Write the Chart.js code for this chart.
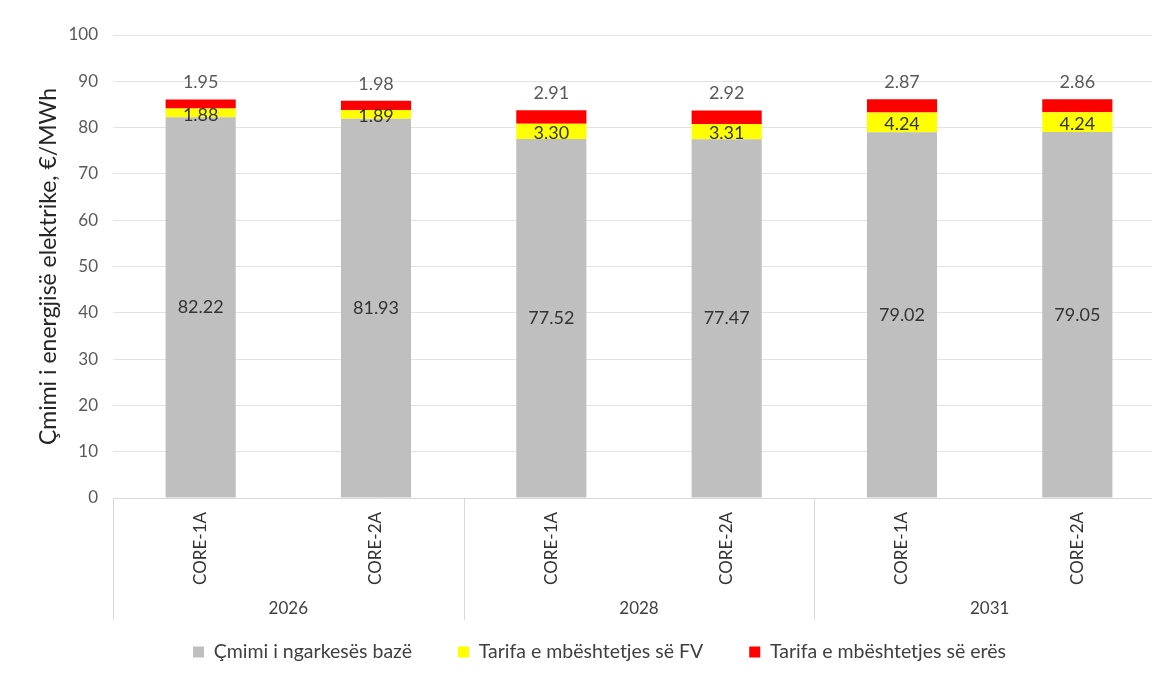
<!DOCTYPE html>
<html>
<head>
<meta charset="utf-8">
<script src="https://cdn.jsdelivr.net/npm/chart.js@4.4.1/dist/chart.umd.min.js"></script>
<style>
  html, body { margin: 0; padding: 0; background: #ffffff; overflow: hidden; }
  #wrap { position: absolute; left: 0; top: 0; width: 1170px; height: 677px; }
</style>
</head>
<body>
<div id="wrap"><canvas id="c" width="1170" height="677"></canvas></div>
<script>
// ---- data ----
const years = ['2026', '2028', '2031'];
const scenarios = ['CORE-1A', 'CORE-2A', 'CORE-1A', 'CORE-2A', 'CORE-1A', 'CORE-2A'];
const basePrice = [82.22, 81.93, 77.52, 77.47, 79.02, 79.05];
const pvTariff = [1.88, 1.89, 3.30, 3.31, 4.24, 4.24];
const windTariff = [1.95, 1.98, 2.91, 2.92, 2.87, 2.86];
const seriesNames = ['Çmimi i ngarkesës bazë', 'Tarifa e mbështetjes së FV', 'Tarifa e mbështetjes së erës'];
const yAxisTitle = 'Çmimi i energjisë elektrike, €/MWh';
const barsPerYear = 2;

const FONT = 'Lato, "Open Sans", sans-serif';
const LEGEND_FS = 19.5;
const LEGEND_PAD = 46;
const LEGEND_CENTER_Y = 652;

const dataLabelPlugin = {
  id: 'dataLabels',
  afterDatasetsDraw(chart) {
    const ctx = chart.ctx;
    ctx.save();
    ctx.textAlign = 'center';
    ctx.textBaseline = 'middle';
    ctx.font = '18px ' + FONT;
    chart.data.datasets.forEach((ds, di) => {
      const meta = chart.getDatasetMeta(di);
      meta.data.forEach((bar, i) => {
        const p = bar.getProps(['x', 'y', 'base'], true);
        const txt = ds.data[i].toFixed(2);
        let y;
        if (di === 2) {
          ctx.fillStyle = '#595959';
          y = Math.min(p.y, p.base) - 17;
        } else {
          ctx.fillStyle = '#333333';
          y = (p.y + p.base) / 2 + (di === 1 ? 2 : 0);
        }
        ctx.fillText(txt, p.x, y);
      });
    });
    ctx.restore();
  }
};

const separatorPlugin = {
  id: 'separators',
  afterDraw(chart) {
    const x = chart.scales.x;
    const ctx = chart.ctx;
    const top = chart.chartArea.bottom;
    const bottom = top + 122;
    const xs = [chart.chartArea.left];
    for (let g = 1; g < years.length; g++) {
      const a = x.getPixelForValue(g * barsPerYear - 1);
      const b = x.getPixelForValue(g * barsPerYear);
      xs.push((a + b) / 2);
    }
    xs.push(chart.chartArea.right);
    ctx.save();
    ctx.strokeStyle = '#d9d9d9';
    ctx.lineWidth = 1;
    xs.forEach(px => {
      const xx = Math.round(px) + 0.5;
      ctx.beginPath();
      ctx.moveTo(xx, top);
      ctx.lineTo(xx, bottom);
      ctx.stroke();
    });
    ctx.restore();
  }
};

// Move the legend's top edge up so its row sits at the reference height
const legendPlacePlugin = {
  id: 'legendPlace',
  afterLayout(chart) {
    const lg = chart.legend;
    if (!lg) return;
    const dy = LEGEND_CENTER_Y - (lg.top + LEGEND_PAD + LEGEND_FS / 2);
    lg.top += dy;
  }
};

new Chart(document.getElementById('c'), {
  type: 'bar',
  data: {
    labels: scenarios,
    datasets: [
      { label: seriesNames[0], data: basePrice, backgroundColor: '#bfbfbf' },
      { label: seriesNames[1], data: pvTariff, backgroundColor: '#ffff00' },
      { label: seriesNames[2], data: windTariff, backgroundColor: '#ff0000' }
    ]
  },
  options: {
    responsive: false,
    animation: false,
    layout: { padding: { left: 34, right: 5, top: 35, bottom: 6 } },
    datasets: { bar: { barPercentage: 0.4, categoryPercentage: 1.0, borderWidth: 0 } },
    plugins: {
      tooltip: { enabled: false },
      legend: {
        position: 'bottom',
        maxHeight: 45,
        labels: {
          boxWidth: 11, boxHeight: 11, padding: LEGEND_PAD,
          color: '#404040',
          font: { family: FONT, size: LEGEND_FS }
        }
      }
    },
    scales: {
      x: {
        stacked: true,
        offset: true,
        weight: 0,
        grid: { display: false, drawTicks: false },
        border: { display: true, color: '#d9d9d9' },
        ticks: {
          maxRotation: 90, minRotation: 90, padding: 14,
          color: '#333333',
          font: { family: FONT, size: 17 }
        },
        afterFit(s) { s.height = 98; }
      },
      x2: {
        type: 'category',
        labels: years,
        position: 'bottom',
        offset: true,
        weight: 1,
        grid: { display: false, drawTicks: false },
        border: { display: false },
        ticks: { padding: 2, color: '#404040', font: { family: FONT, size: 17 } },
        afterFit(s) { s.height = 30; }
      },
      y: {
        stacked: true,
        min: 0, max: 100,
        ticks: { stepSize: 10, padding: 15, color: '#595959', font: { family: FONT, size: 17 } },
        grid: { color: '#e3e3e3', drawTicks: false },
        border: { display: false },
        title: {
          display: true, text: yAxisTitle, color: '#262626',
          font: { family: FONT, size: 23 }, padding: { top: 1, bottom: 0 }
        },
        afterFit(s) { s.width = 79; }
      }
    }
  },
  plugins: [dataLabelPlugin, separatorPlugin, legendPlacePlugin]
});
</script>
</body>
</html>
